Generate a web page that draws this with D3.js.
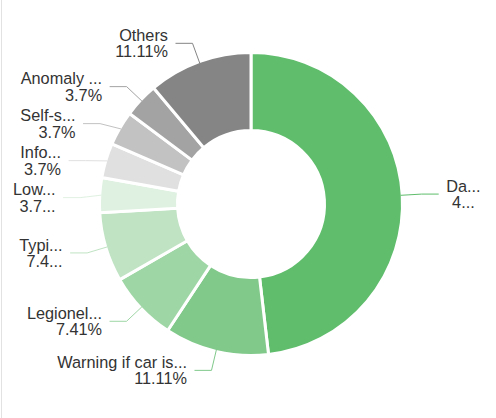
<!DOCTYPE html>
<html><head><meta charset="utf-8">
<script src="https://cdn.jsdelivr.net/npm/d3@7"></script>
<style>html,body{margin:0;padding:0;background:#fff;} svg{display:block;}</style>
</head><body>
<svg id="chart" width="496" height="418"></svg>
<script>
// ---- data ----
const categories = ["Da...", "Warning if car is...", "Legionel...", "Typi...", "Low...", "Info...", "Self-s...", "Anomaly ...", "Others"];
const percentages = [48.15, 11.11, 7.41, 7.41, 3.70, 3.70, 3.70, 3.70, 11.11];
const percentLabels = ["4...", "11.11%", "7.41%", "7.4...", "3.7...", "3.7%", "3.7%", "3.7%", "11.11%"];
const colors = ["#5fbd6c", "#80c98a", "#9fd6a5", "#bfe3c3", "#dff1e1", "#e0e0e0", "#c2c2c2", "#a3a3a3", "#858585"];

// ---- layout ----
const W = 496, H = 418, cx = 251, cy = 204, R = 150, r0 = 75;
const len1 = 21, len2 = 17, textGap = 7.5, labelH = 37;
const fontFamily = "'Liberation Sans', Arial, Helvetica, sans-serif";

const svg = d3.select("#chart");
svg.append("rect").attr("width", W).attr("height", H).attr("fill", "#fff");
svg.append("line").attr("x1", 1.5).attr("x2", 1.5).attr("y1", 0).attr("y2", H)
  .attr("stroke", "#e2e2e2").attr("stroke-width", 1);

const data = categories.map((c, i) => ({ name: c, value: percentages[i], pct: percentLabels[i], color: colors[i] }));
const pie = d3.pie().value(d => d.value).sort(null);
const arcs = pie(data);
const arc = d3.arc().innerRadius(r0 - 1.5).outerRadius(R + 1.5);

const g = svg.append("g").attr("transform", `translate(${cx},${cy})`);
g.selectAll("path.slice").data(arcs).join("path")
  .attr("class", "slice")
  .attr("d", arc)
  .attr("fill", d => d.data.color)
  .attr("stroke", "#fff")
  .attr("stroke-width", 3);

// label positions
const rA = R + len1;
const items = arcs.map(a => {
  const mid = (a.startAngle + a.endAngle) / 2;
  const dx = Math.sin(mid), dy = -Math.cos(mid);
  return {
    a, dir: dx < 0 ? -1 : 1,
    p0: [cx + R * dx, cy + R * dy],
    x: cx + rA * dx, y: cy + rA * dy, x0: cx + rA * dx
  };
});

[-1, 1].forEach(dir => {
  const list = items.filter(d => d.dir === dir).sort((p, q) => p.y - q.y);
  let last = -Infinity, adjusted = false;
  list.forEach(it => {
    if (it.y < last + labelH) { it.y = last + labelH; adjusted = true; }
    last = it.y;
  });
  if (!adjusted) return;
  [list.filter(d => d.y < cy), list.filter(d => d.y >= cy)].forEach(semi => {
    if (!semi.length) return;
    let far = semi[0];
    semi.forEach(d => { if (Math.abs(d.y - cy) > Math.abs(far.y - cy)) far = d; });
    const fdy = Math.abs(far.y - cy), fdx = far.x0 - cx;
    const rB = Math.abs(fdx) < rA ? Math.sqrt(fdy * fdy / (1 - fdx * fdx / (rA * rA))) : rA;
    semi.forEach(d => {
      const ddy = Math.abs(d.y - cy);
      d.x = cx + dir * Math.sqrt(Math.max(0, 1 - ddy * ddy / (rB * rB))) * rA;
    });
  });
});

const lg = svg.append("g");
items.forEach(it => {
  const p1 = [it.x, it.y];
  const p2 = [it.x + it.dir * len2, it.y];
  lg.append("path")
    .attr("d", d3.line()([it.p0, p1, p2]))
    .attr("fill", "none")
    .attr("stroke", it.a.data.color)
    .attr("stroke-width", 1);
  const tx = p2[0] + it.dir * textGap;
  const lines = [it.a.data.name, it.a.data.pct];
  const offs = [-2.4, 13.9];
  const texts = lines.map((s, k) => lg.append("text")
    .attr("x", tx).attr("y", it.y + offs[k])
    .attr("text-anchor", it.dir < 0 ? "end" : "start")
    .attr("font-family", fontFamily)
    .attr("font-size", "16.3px")
    .attr("fill", "#333")
    .text(s));
  if (it.dir > 0) {
    const ws = texts.map(t => t.node().getComputedTextLength());
    const mw = Math.max(...ws);
    texts.forEach((t, k) => t.attr("x", tx + (mw - ws[k]) / 2));
  }
});
</script>
</body></html>
